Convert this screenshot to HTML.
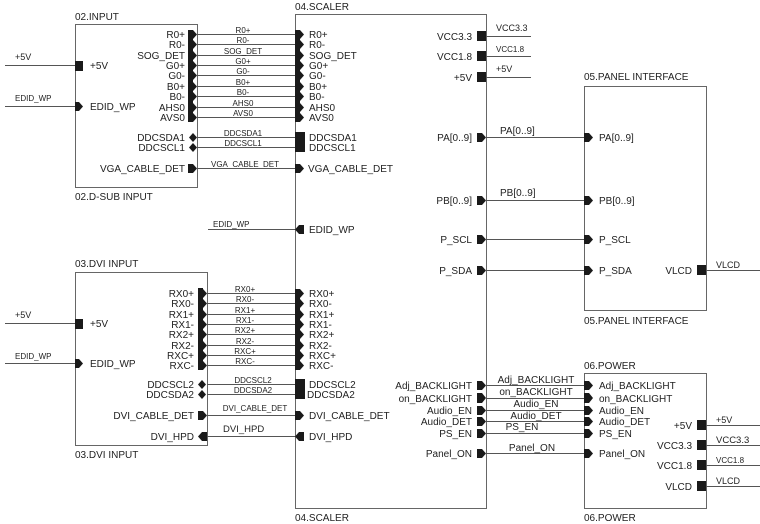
<!DOCTYPE html>
<html><head><meta charset="utf-8"><style>
html,body{margin:0;padding:0;background:#fff;}
svg{display:block;}
text{font-family:"Liberation Sans",sans-serif;fill:#222;}
.p{font-size:10px;}
.w{font-size:8px;}
.t{font-size:10px;}
line{stroke:#555;stroke-width:1;}
rect.b{fill:none;stroke:#666;stroke-width:1;}
polygon,rect.f{fill:#1a1a1a;}
</style></head><body>
<svg width="760" height="524" viewBox="0 0 760 524" xmlns="http://www.w3.org/2000/svg">
<!-- boxes -->
<rect class="b" x="75.5" y="24.5" width="122" height="163"/>
<rect class="b" x="295.5" y="14.5" width="191" height="494"/>
<rect class="b" x="75.5" y="272.5" width="132" height="173"/>
<rect class="b" x="584.5" y="86.5" width="122" height="224"/>
<rect class="b" x="584.5" y="373.5" width="122" height="135"/>
<text class="t" x="75" y="20">02.INPUT</text>
<text class="t" x="75" y="200">02.D-SUB INPUT</text>
<text class="t" x="295" y="10">04.SCALER</text>
<text class="t" x="295" y="521">04.SCALER</text>
<text class="t" x="75" y="267">03.DVI INPUT</text>
<text class="t" x="75" y="458">03.DVI INPUT</text>
<text class="t" x="584" y="80">05.PANEL INTERFACE</text>
<text class="t" x="584" y="324">05.PANEL INTERFACE</text>
<text class="t" x="584" y="369">06.POWER</text>
<text class="t" x="584" y="521">06.POWER</text>

<!-- 02 input left side -->
<line x1="5" y1="65.5" x2="75" y2="65.5"/><text class="w" x="15" y="60" style="font-size:9px">+5V</text>
<rect class="f" x="75" y="61" width="8" height="10"/><text class="p" x="90" y="69">+5V</text>
<line x1="5" y1="106.5" x2="75" y2="106.5"/><text class="w" x="15" y="101">EDID_WP</text>
<polygon points="75,102 79,102 83,106.5 79,111 75,111"/><text class="p" x="90" y="110">EDID_WP</text>

<!-- VGA signals -->
<g>
<line x1="197" y1="34.5" x2="295" y2="34.5"/><line x1="197" y1="44.5" x2="295" y2="44.5"/><line x1="197" y1="55.5" x2="295" y2="55.5"/>
<line x1="197" y1="65.5" x2="295" y2="65.5"/><line x1="197" y1="75.5" x2="295" y2="75.5"/><line x1="197" y1="86.5" x2="295" y2="86.5"/>
<line x1="197" y1="96.5" x2="295" y2="96.5"/><line x1="197" y1="107.5" x2="295" y2="107.5"/><line x1="197" y1="117.5" x2="295" y2="117.5"/>
<rect class="f" x="188" y="30" width="5" height="92"/>
<polygon points="193,30 197,34.5 193,39"/><polygon points="193,40 197,44.5 193,49"/><polygon points="193,51 197,55.5 193,60"/>
<polygon points="193,61 197,65.5 193,70"/><polygon points="193,71 197,75.5 193,80"/><polygon points="193,82 197,86.5 193,91"/>
<polygon points="193,92 197,96.5 193,101"/><polygon points="193,103 197,107.5 193,112"/><polygon points="193,113 197,117.5 193,122"/>
<rect class="f" x="295" y="30" width="5" height="92"/>
<polygon points="300,30 304,34.5 300,39"/><polygon points="300,40 304,44.5 300,49"/><polygon points="300,51 304,55.5 300,60"/>
<polygon points="300,61 304,65.5 300,70"/><polygon points="300,71 304,75.5 300,80"/><polygon points="300,82 304,86.5 300,91"/>
<polygon points="300,92 304,96.5 300,101"/><polygon points="300,103 304,107.5 300,112"/><polygon points="300,113 304,117.5 300,122"/>
<g class="p" text-anchor="end">
<text x="185" y="38">R0+</text><text x="185" y="48">R0-</text><text x="185" y="59">SOG_DET</text><text x="185" y="69">G0+</text>
<text x="185" y="79">G0-</text><text x="185" y="90">B0+</text><text x="185" y="100">B0-</text><text x="185" y="111">AHS0</text><text x="185" y="121">AVS0</text>
<text x="185" y="141">DDCSDA1</text><text x="185" y="151">DDCSCL1</text><text x="185" y="172">VGA_CABLE_DET</text>
</g>
<g class="p">
<text x="309" y="38">R0+</text><text x="309" y="48">R0-</text><text x="309" y="59">SOG_DET</text><text x="309" y="69">G0+</text>
<text x="309" y="79">G0-</text><text x="309" y="90">B0+</text><text x="309" y="100">B0-</text><text x="309" y="111">AHS0</text><text x="309" y="121">AVS0</text>
<text x="309" y="141">DDCSDA1</text><text x="309" y="151">DDCSCL1</text><text x="308" y="172">VGA_CABLE_DET</text>
<text x="309" y="233">EDID_WP</text>
</g>
<g class="w" text-anchor="middle">
<text x="243" y="33">R0+</text><text x="243" y="43">R0-</text><text x="243" y="54">SOG_DET</text><text x="243" y="64">G0+</text>
<text x="243" y="74">G0-</text><text x="243" y="85">B0+</text><text x="243" y="95">B0-</text><text x="243" y="106">AHS0</text><text x="243" y="116">AVS0</text>
<text x="243" y="136">DDCSDA1</text><text x="243" y="146">DDCSCL1</text><text x="245" y="167">VGA_CABLE_DET</text>
</g>
<line x1="197" y1="137.5" x2="295" y2="137.5"/><line x1="197" y1="147.5" x2="295" y2="147.5"/>
<polygon points="193,133 197,137.5 193,142 189,137.5"/><polygon points="193,143 197,147.5 193,152 189,147.5"/>
<rect class="f" x="295" y="132" width="10" height="20"/>
<line x1="197" y1="168.5" x2="295" y2="168.5"/>
<polygon points="188,164 193,164 197,168.5 193,173 188,173"/>
<polygon points="295,164 300,164 304,168.5 300,173 295,173"/>
<line x1="208" y1="229.5" x2="295" y2="229.5"/><text class="w" x="213" y="227">EDID_WP</text>
<polygon points="304,225 299,225 295,229.5 299,234 304,234"/>
</g>

<!-- 03 DVI left -->
<line x1="5" y1="323.5" x2="75" y2="323.5"/><text x="15" y="318" style="font-size:9px">+5V</text>
<rect class="f" x="75" y="319" width="8" height="10"/><text class="p" x="90" y="327">+5V</text>
<line x1="5" y1="363.5" x2="75" y2="363.5"/><text class="w" x="15" y="359">EDID_WP</text>
<polygon points="75,359 79,359 83,363.5 79,368 75,368"/><text class="p" x="90" y="367">EDID_WP</text>

<g>
<line x1="207" y1="293.5" x2="295" y2="293.5"/><line x1="207" y1="303.5" x2="295" y2="303.5"/><line x1="207" y1="314.5" x2="295" y2="314.5"/>
<line x1="207" y1="324.5" x2="295" y2="324.5"/><line x1="207" y1="334.5" x2="295" y2="334.5"/><line x1="207" y1="345.5" x2="295" y2="345.5"/>
<line x1="207" y1="355.5" x2="295" y2="355.5"/><line x1="207" y1="365.5" x2="295" y2="365.5"/>
<rect class="f" x="198" y="288" width="5" height="82"/>
<polygon points="203,289 207,293.5 203,298"/><polygon points="203,299 207,303.5 203,308"/><polygon points="203,310 207,314.5 203,319"/>
<polygon points="203,320 207,324.5 203,329"/><polygon points="203,330 207,334.5 203,339"/><polygon points="203,341 207,345.5 203,350"/>
<polygon points="203,351 207,355.5 203,360"/><polygon points="203,361 207,365.5 203,370"/>
<rect class="f" x="295" y="289" width="5" height="81"/>
<polygon points="300,289 304,293.5 300,298"/><polygon points="300,299 304,303.5 300,308"/><polygon points="300,310 304,314.5 300,319"/>
<polygon points="300,320 304,324.5 300,329"/><polygon points="300,330 304,334.5 300,339"/><polygon points="300,341 304,345.5 300,350"/>
<polygon points="300,351 304,355.5 300,360"/><polygon points="300,361 304,365.5 300,370"/>
<g class="p" text-anchor="end">
<text x="194" y="297">RX0+</text><text x="194" y="307">RX0-</text><text x="194" y="318">RX1+</text><text x="194" y="328">RX1-</text>
<text x="194" y="338">RX2+</text><text x="194" y="349">RX2-</text><text x="194" y="359">RXC+</text><text x="194" y="369">RXC-</text>
<text x="194" y="388">DDCSCL2</text><text x="194" y="398">DDCSDA2</text><text x="194" y="419">DVI_CABLE_DET</text><text x="194" y="440">DVI_HPD</text>
</g>
<g class="p">
<text x="309" y="297">RX0+</text><text x="309" y="307">RX0-</text><text x="309" y="318">RX1+</text><text x="309" y="328">RX1-</text>
<text x="309" y="338">RX2+</text><text x="309" y="349">RX2-</text><text x="309" y="359">RXC+</text><text x="309" y="369">RXC-</text>
<text x="309" y="388">DDCSCL2</text><text x="307" y="398">DDCSDA2</text><text x="309" y="419">DVI_CABLE_DET</text><text x="309" y="440">DVI_HPD</text>
</g>
<g class="w" text-anchor="middle">
<text x="245" y="292">RX0+</text><text x="245" y="302">RX0-</text><text x="245" y="313">RX1+</text><text x="245" y="323">RX1-</text>
<text x="245" y="333">RX2+</text><text x="245" y="344">RX2-</text><text x="245" y="354">RXC+</text><text x="245" y="364">RXC-</text>
<text x="253" y="383">DDCSCL2</text><text x="253" y="393">DDCSDA2</text><text x="255" y="411">DVI_CABLE_DET</text>
</g>
<text class="p" x="223" y="432" style="font-size:9.5px">DVI_HPD</text>
<line x1="207" y1="384.5" x2="295" y2="384.5"/><line x1="207" y1="394.5" x2="295" y2="394.5"/>
<polygon points="202,380 206,384.5 202,389 198,384.5"/><polygon points="202,390 206,394.5 202,399 198,394.5"/>
<rect class="f" x="295" y="379" width="10" height="20"/>
<line x1="207" y1="415.5" x2="295" y2="415.5"/>
<polygon points="198,411 203,411 207,415.5 203,420 198,420"/>
<polygon points="295,411 300,411 304,415.5 300,420 295,420"/>
<line x1="207" y1="436.5" x2="295" y2="436.5"/>
<polygon points="207,432 202,432 198,436.5 202,441 207,441"/>
<polygon points="304,432 299,432 295,436.5 299,441 304,441"/>
</g>

<!-- scaler right power -->
<rect class="f" x="477" y="31" width="9" height="10"/><line x1="486" y1="36.5" x2="531" y2="36.5"/>
<rect class="f" x="477" y="51" width="9" height="10"/><line x1="486" y1="56.5" x2="531" y2="56.5"/>
<rect class="f" x="477" y="72" width="9" height="10"/><line x1="486" y1="77.5" x2="531" y2="77.5"/>
<g class="p" text-anchor="end"><text x="472" y="40">VCC3.3</text><text x="472" y="60">VCC1.8</text><text x="472" y="81">+5V</text>
<text x="472" y="141">PA[0..9]</text><text x="472" y="204">PB[0..9]</text><text x="472" y="243">P_SCL</text><text x="472" y="274">P_SDA</text>
<text x="472" y="389">Adj_BACKLIGHT</text><text x="472" y="402">on_BACKLIGHT</text><text x="472" y="414">Audio_EN</text>
<text x="472" y="425">Audio_DET</text><text x="472" y="437">PS_EN</text><text x="472" y="457">Panel_ON</text></g>
<text class="w" x="496" y="31" style="font-size:9px">VCC3.3</text>
<text class="w" x="496" y="52">VCC1.8</text>
<text class="w" x="496" y="72" style="font-size:9px">+5V</text>

<!-- panel signals -->
<g>
<line x1="486" y1="137.5" x2="584" y2="137.5"/><line x1="486" y1="200.5" x2="584" y2="200.5"/>
<line x1="486" y1="239.5" x2="584" y2="239.5"/><line x1="486" y1="270.5" x2="584" y2="270.5"/>
<polygon points="477,133 482,133 486,137.5 482,142 477,142"/><polygon points="584,133 589,133 593,137.5 589,142 584,142"/>
<polygon points="477,196 482,196 486,200.5 482,205 477,205"/><polygon points="584,196 589,196 593,200.5 589,205 584,205"/>
<polygon points="477,235 482,235 486,239.5 482,244 477,244"/><polygon points="584,235 589,235 593,239.5 589,244 584,244"/>
<polygon points="477,266 482,266 486,270.5 482,275 477,275"/><polygon points="584,266 589,266 593,270.5 589,275 584,275"/>
<text class="p" x="500" y="134">PA[0..9]</text><text class="p" x="500" y="196">PB[0..9]</text>
<g class="p"><text x="599" y="141">PA[0..9]</text><text x="599" y="204">PB[0..9]</text><text x="599" y="243">P_SCL</text><text x="599" y="274">P_SDA</text></g>
<text class="p" x="692" y="274" text-anchor="end">VLCD</text>
<rect class="f" x="697" y="265" width="9" height="10"/><line x1="706" y1="270.5" x2="760" y2="270.5"/>
<text class="w" x="716" y="268" style="font-size:9px">VLCD</text>
</g>

<!-- power signals -->
<g>
<line x1="486" y1="385.5" x2="584" y2="385.5"/><line x1="486" y1="398.5" x2="584" y2="398.5"/>
<line x1="486" y1="410.5" x2="584" y2="410.5"/><line x1="486" y1="421.5" x2="584" y2="421.5"/>
<line x1="486" y1="433.5" x2="584" y2="433.5"/><line x1="486" y1="453.5" x2="584" y2="453.5"/>
<polygon points="477,381 482,381 486,385.5 482,390 477,390"/><polygon points="584,381 589,381 593,385.5 589,390 584,390"/>
<polygon points="477,393 482,393 486,398 482,403 477,403"/><polygon points="584,393 589,393 593,398 589,403 584,403"/>
<polygon points="477,406 482,406 486,410.5 482,415 477,415"/><polygon points="584,406 589,406 593,410.5 589,415 584,415"/>
<polygon points="477,417 482,417 486,421.5 482,426 477,426"/><polygon points="584,417 589,417 593,421.5 589,426 584,426"/>
<polygon points="477,429 482,429 486,433.5 482,438 477,438"/><polygon points="584,429 589,429 593,433.5 589,438 584,438"/>
<polygon points="477,449 482,449 486,453.5 482,458 477,458"/><polygon points="584,449 589,449 593,453.5 589,458 584,458"/>
<g class="p" text-anchor="middle">
<text x="536" y="383">Adj_BACKLIGHT</text><text x="536" y="395">on_BACKLIGHT</text><text x="536" y="407">Audio_EN</text>
<text x="536" y="419">Audio_DET</text><text x="522" y="430">PS_EN</text><text x="532" y="451">Panel_ON</text>
</g>
<g class="p">
<text x="599" y="389">Adj_BACKLIGHT</text><text x="599" y="402">on_BACKLIGHT</text><text x="599" y="414">Audio_EN</text>
<text x="599" y="425">Audio_DET</text><text x="599" y="437">PS_EN</text><text x="599" y="457">Panel_ON</text>
</g>
<rect class="f" x="697" y="420" width="9" height="10"/><line x1="706" y1="425.5" x2="760" y2="425.5"/>
<rect class="f" x="697" y="440" width="9" height="10"/><line x1="706" y1="445.5" x2="760" y2="445.5"/>
<rect class="f" x="697" y="460" width="9" height="10"/><line x1="706" y1="465.5" x2="760" y2="465.5"/>
<rect class="f" x="697" y="481" width="9" height="10"/><line x1="706" y1="486.5" x2="760" y2="486.5"/>
<g class="p" text-anchor="end"><text x="692" y="429">+5V</text><text x="692" y="449">VCC3.3</text><text x="692" y="469">VCC1.8</text><text x="692" y="490">VLCD</text></g>
<text x="716" y="423" style="font-size:9px">+5V</text>
<text x="716" y="443" style="font-size:9.5px">VCC3.3</text>
<text class="w" x="716" y="463">VCC1.8</text>
<text class="w" x="716" y="484" style="font-size:9px">VLCD</text>
</g>
</svg>
</body></html>
